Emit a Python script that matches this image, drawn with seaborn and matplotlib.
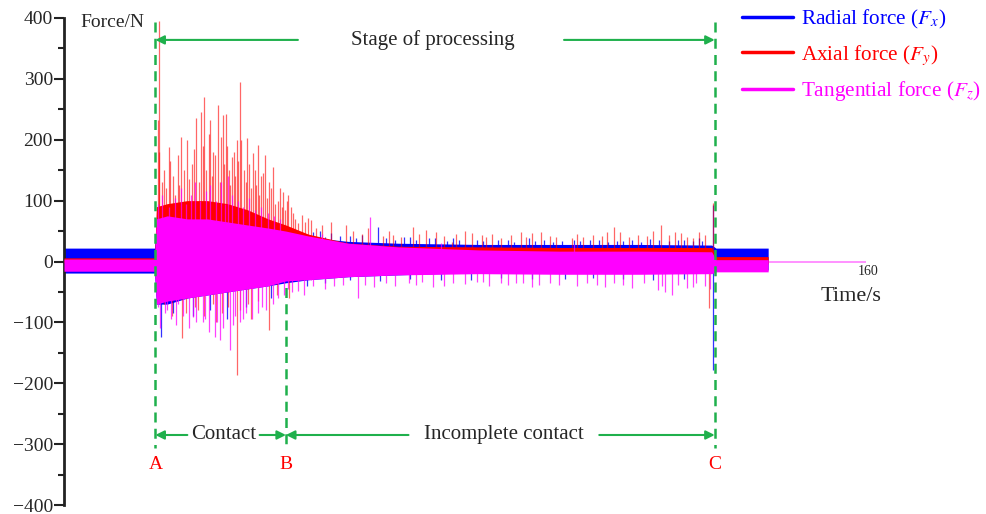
import numpy as np
import pandas as pd
import matplotlib
matplotlib.use("Agg")
import matplotlib.pyplot as plt
from matplotlib.lines import Line2D
import seaborn as sns

# ---------------- data ----------------
# envelope knots (time, s)
env_t = [28.0, 42.9, 43.2, 45.0, 48.3, 51.6, 54.9, 58.2, 61.6, 64.5, 68.2,
         74.8, 83.0, 96.3, 109.5, 122.7, 134.6, 135.3, 143.9]
# radial force Fx envelope
fx_hi = [22, 22, 60, 65, 60, 60, 55, 50, 48, 45, 40, 33, 30, 28, 28, 28, 27, 22, 22]
fx_lo = [-19, -19, -70, -70, -60, -55, -50, -45, -40, -35, -30, -25, -22, -18, -18, -18, -18, -14, -14]
# axial force Fy envelope
fy_hi = [6, 6, 90, 95, 100, 100, 95, 85, 70, 60, 45, 30, 25, 24, 23, 23, 23, 8, 8]
fy_lo = [-2, -2, -50, -50, -50, -45, -40, -38, -32, -28, -22, -18, -16, -15, -15, -15, -15, -4, -4]
# tangential force Fz envelope
fz_hi = [4, 4, 70, 75, 70, 70, 65, 60, 55, 50, 42, 30, 24, 19, 17, 17, 16, 3, 3]
fz_lo = [-16, -16, -70, -65, -60, -55, -50, -45, -40, -32, -30, -25, -22, -20, -21, -21, -20, -17, -17]

# individual peaks (time, value)
fx_spike_t = [43.9, 46.0, 49.2, 52.0, 54.9, 58.0, 62.0, 66.0, 68.0, 70.1, 73.4, 79.7, 80.0,
              84.0, 88.0, 93.0, 95.0, 99.5, 104.5, 110.0, 110.5, 114.5, 120.0, 124.5, 125.0,
              129.0, 133.0, 134.9, 134.9,
              65.0, 67.0, 69.0, 71.0, 72.0, 75.0, 76.0, 77.0, 81.0, 82.5, 85.0, 86.0, 89.0,
              91.0, 92.0, 96.0, 97.0, 101.0, 102.0, 105.5, 107.0, 108.5, 112.0, 113.0, 116.0,
              117.5, 119.0, 121.5, 123.0, 126.0, 127.5, 130.0, 131.5, 132.5,
              71.0, 75.0, 85.0, 90.0, 100.0, 105.0, 115.0, 120.0, 130.0]
fx_spike_v = [-124, -85, -90, -80, -95, -75, -60, 45, -40, 50, 42, 57, -32,
              40, 38, 36, -30, 35, 38, 34, -28, 36, 33, 37, -30,
              35, 34, 93, -178,
              50, 45, 48, 40, 46, 42, 38, 44, 38, 36, 40, 35, 38,
              34, 38, 35, 33, 36, 32, 34, 36, 32, 35, 33, 36,
              32, 34, 36, 32, 35, 33, 36, 34, 38,
              -35, -30, -28, -30, -27, -28, -27, -29, -28]

fy_spike_t = [43.7, 43.4, 44.4, 45.2, 46.0, 47.3, 48.3, 49.0, 49.8, 50.5, 51.1, 52.1, 52.6,
              53.3, 54.1, 54.6, 55.1, 55.6, 56.4, 56.9, 57.6, 58.1, 59.1, 59.9, 60.4,
              61.1, 61.7, 62.4, 63.2, 64.0, 64.9, 65.4, 66.5, 67.2, 68.7, 72.0, 74.4,
              82.2, 85.5, 89.3, 91.8, 95.1, 96.8, 103.2, 106.5, 111.6, 117.4, 118.6,
              126.3, 128.5, 131.5, 134.8,
              43.6, 44.1, 44.8, 45.5, 46.3, 46.7, 47.0, 47.8, 48.6, 49.4, 50.2, 50.8,
              51.4, 51.8, 52.4, 52.9, 53.6, 53.9, 54.4, 54.9, 55.4, 55.9, 56.1, 56.7,
              57.2, 57.9, 58.4, 58.7, 59.4, 59.6, 60.1, 60.7, 61.4, 62.0, 62.7, 63.5,
              63.8, 64.3, 64.7, 65.7, 66.0, 67.6, 68.2, 69.5, 70.5,
              75.5, 77.0, 78.0, 80.5, 81.5, 83.5, 86.5, 87.5, 90.5, 92.5, 94.0, 97.5,
              98.5, 100.0, 101.5, 104.0, 105.0, 108.0, 109.0, 112.5, 113.5, 115.0, 116.5,
              119.5, 121.0, 122.5, 124.0, 125.0, 127.5, 129.5, 130.5, 132.5, 133.5,
              43.9, 45.8, 47.5, 50.0, 53.0, 56.4, 58.8, 61.8, 65.0, 134.1,
              44.5, 46.5, 48.0, 49.5, 51.0, 52.5, 54.0, 55.0, 57.0, 58.3, 60.0, 63.0]
fy_spike_v = [395, 232, 150, 188, 140, 205, 200, 160, 236, 245, 270, 232, 180,
              257, 240, 243, 150, 171, 200, 295, 150, 203, 178, 191, 140,
              175, 130, 155, 100, 114, 110, 90, 63, 76, 68, 65, 60,
              44, 57, 49, 32, 47, 44, 49, 49, 38, 49, 57,
              60, 49, 38, 96,
              180, 130, 120, 165, 110, 175, 125, 150, 135, 185, 130, 190,
              150, 210, 140, 175, 130, 205, 160, 190, 125, 180, 140, 165,
              200, 130, 160, 120, 150, 125, 110, 145, 105, 120, 95, 120,
              90, 85, 100, 80, 70, 65, 72, 55, 60,
              50, 45, 55, 42, 50, 40, 45, 52, 42, 45, 50, 40,
              45, 38, 44, 40, 46, 42, 40, 45, 40, 44, 42,
              48, 40, 44, 42, 50, 43, 46, 40, 48, 44,
              -52, -90, -126, -80, -100, -187, -95, -112, -60, -77,
              -70, -65, -85, -75, -90, -70, -85, -75, -80, -70, -65, -55]

fz_spike_t = [43.4, 45.0, 46.7, 49.2, 50.8, 52.8, 53.6, 55.3, 57.4, 59.9, 62.4, 64.9,
              68.7, 76.4, 84.8, 88.8, 96.0, 102.4, 106.2, 115.8, 125.7, 128.0, 131.5,
              78.4, 70.5, 90.0, 112.0,
              43.5, 44.2, 45.3, 46.2, 47.2, 48.0, 48.9, 49.6, 50.4, 51.3, 52.0, 53.0,
              53.8, 54.5, 55.0, 55.7, 56.6, 57.5, 58.5, 59.5, 60.5, 61.5, 62.5, 63.5,
              43.8, 44.6, 45.6, 46.4, 47.6, 48.5, 49.8, 51.2, 51.9, 53.2, 54.2, 55.8,
              56.2, 57.0, 58.0, 58.9, 60.6, 61.2, 63.2, 64.2, 65.5, 66.5, 67.5, 69.0,
              71.0, 72.5, 74.0,
              77.5, 79.0, 81.0, 82.5, 86.0, 87.0, 90.5, 92.0, 94.0, 97.0, 98.0, 100.0,
              101.0, 103.5, 105.0, 108.0, 109.5, 112.5, 114.0, 117.0, 118.5, 120.0,
              121.5, 123.5, 126.5, 127.0, 129.0, 130.5, 132.0, 133.5, 134.3]
fz_spike_v = [-75, -80, -70, -91, -100, -124, -129, -145, -95, -85, -70, -45,
              -30, -60, -35, -42, -33, -36, -39, -39, -47, -55, -42,
              73, 45, 30, 28,
              95, 110, 90, 105, 120, 95, 110, 130, 100, 115, 125, 100,
              130, 95, 140, 110, 100, 90, 105, 85, 90, 80, 75, 70,
              -110, -85, -95, -105, -90, -110, -100, -95, -115, -100, -110, -105,
              -90, -100, -85, -95, -75, -80, -60, -55, -50, -48, -55, -40,
              -45, -40, -38,
              -38, -42, -35, -40, -38, -33, -40, -35, -37, -34, -40, -35,
              -38, -36, -42, -35, -38, -40, -35, -42, -36, -38,
              -44, -36, -40, -50, -38, -44, -36, -40, -45]

# flat tail of the recording
tail_t = [143.9, 160.0]
tail_v = [0.0, 0.0]

# stage markers (s)
t_A, t_B, t_C = 43.04, 64.53, 135.1

labels = ["Radial force ($F_x$)", "Axial force ($F_y$)", "Tangential force ($F_z$)"]
colors = ["#0000FF", "#FF0000", "#FF00FF"]
green = "#1FB04C"

# ---------------- figure ----------------
sns.set_theme(style="white")
plt.rcParams["font.family"] = ["Liberation Serif", "DejaVu Serif"]
plt.rcParams["mathtext.fontset"] = "stix"

fig = plt.figure(figsize=(9.87, 5.14), dpi=100)
ax = fig.add_axes([64 / 987, 9 / 514, (866 - 64) / 987, (505 - 18) / 514])

series = [(fx_hi, fx_lo, fx_spike_t, fx_spike_v),
          (fy_hi, fy_lo, fy_spike_t, fy_spike_v),
          (fz_hi, fz_lo, fz_spike_t, fz_spike_v)]
alphas = [0.8, 0.6, 0.75]
for i, (hi, lo, st, sv) in enumerate(series):
    z = 2 + i
    ax.fill_between(env_t, lo, hi, color=colors[i], lw=0, zorder=z)
    ax.vlines(st, 0, sv, color=colors[i], lw=0.9, alpha=alphas[i], zorder=z)

tail = pd.DataFrame({"t": tail_t, "v": tail_v})
sns.lineplot(data=tail, x="t", y="v", ax=ax, color=colors[2], lw=1.2, alpha=0.5)

ax.set_xlim(28, 160)
ax.set_ylim(-400, 400)

# axes styling
for s in ["top", "right", "bottom"]:
    ax.spines[s].set_visible(False)
ax.spines["left"].set_linewidth(2)
ax.spines["left"].set_color("#222222")
ax.set_yticks(np.arange(-400, 401, 100))
ax.set_yticks(np.arange(-350, 400, 100), minor=True)
ax.tick_params(axis="y", which="major", direction="out", length=7, width=1.5,
               labelsize=14, pad=1, left=True, color="#222222")
ax.tick_params(axis="y", which="minor", direction="out", length=4, width=1.5,
               left=True, color="#222222")
ax.set_xticks([])
ax.set_xlabel("")
ax.set_ylabel("")

ax.text(36.0, 393, "Force/N", fontsize=14, ha="center", va="center")
ax.text(160.3, -17, "160", fontsize=10, ha="center", va="center")
ax.text(157.5, -58, "Time/s", fontsize=16, ha="center", va="center")

# stage lines
dash = (0, (4, 2.5))
ax.plot([t_A, t_A], [393, -307], color=green, lw=1.8, linestyle=dash, zorder=6)
ax.plot([t_B, t_B], [10, -307], color=green, lw=1.8, linestyle=dash, zorder=1)
ax.plot([t_C, t_C], [393, -307], color=green, lw=1.8, linestyle=dash, zorder=6)

def arrow(x0, x1, y):
    ax.annotate("", xy=(x1, y), xytext=(x0, y),
                arrowprops=dict(arrowstyle="-|>", color=green, lw=1.5,
                                mutation_scale=13, shrinkA=0, shrinkB=0), zorder=7)

y_top, y_bot = 364, -285
arrow(66.5, t_A, y_top)
arrow(110.3, t_C, y_top)
ax.text(88.7, y_top, "Stage of processing", fontsize=15, ha="center", va="center")
arrow(48.3, t_A, y_bot)
arrow(60.2, t_B, y_bot)
ax.text(54.3, y_bot, "Contact", fontsize=15, ha="center", va="center")
arrow(84.7, t_B, y_bot)
arrow(116.1, t_C, y_bot)
ax.text(100.4, y_bot, "Incomplete contact", fontsize=15, ha="center", va="center")

for t, lab in [(t_A, "A"), (t_B, "B"), (t_C, "C")]:
    ax.text(t, -334, lab, fontsize=14, color="#FF0000", ha="center", va="center")

# legend
handles = [Line2D([0], [0], color=c, lw=2.5) for c in colors]
leg = fig.legend(handles, labels, loc="upper left", bbox_to_anchor=(742 / 987, 1 - 8 / 514),
                 frameon=False, fontsize=15.3, handlelength=2.4, labelspacing=0.55,
                 handletextpad=0.4, borderpad=0, borderaxespad=0)
for txt, c in zip(leg.get_texts(), colors):
    txt.set_color(c)

fig.savefig("out.png", dpi=100)
